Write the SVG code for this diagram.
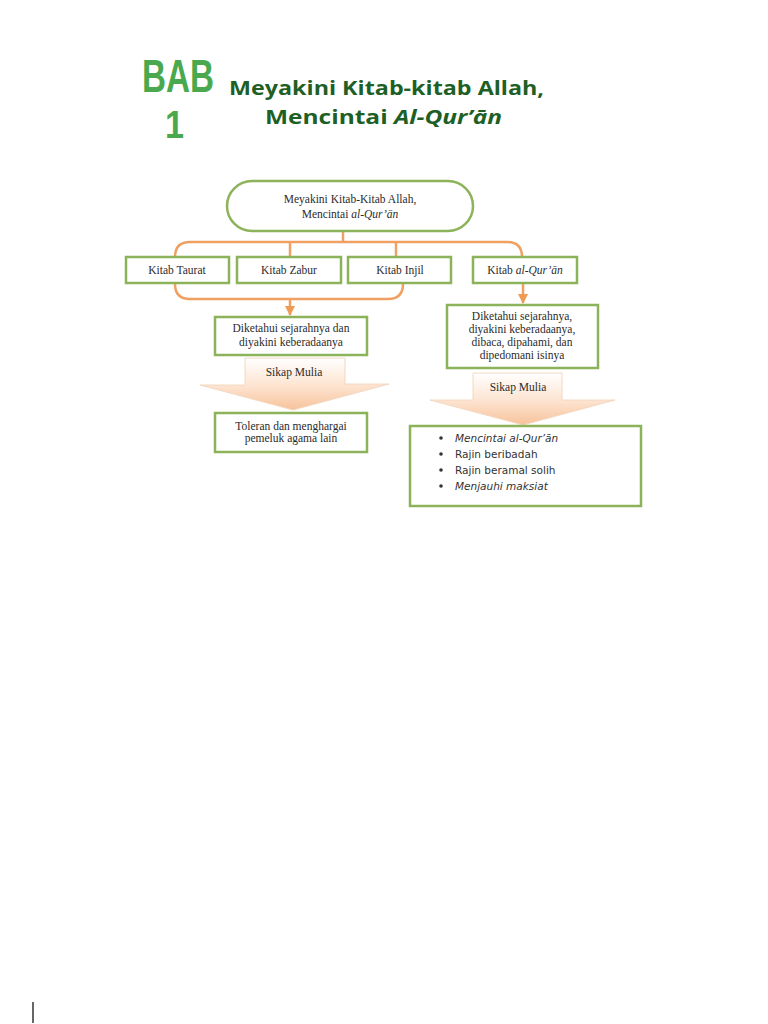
<svg xmlns="http://www.w3.org/2000/svg" width="768" height="1024" viewBox="0 0 768 1024">
<defs>
<linearGradient id="peach" x1="0" y1="0" x2="0" y2="1">
<stop offset="0" stop-color="#ffffff"/>
<stop offset="0.55" stop-color="#fde3cf"/>
<stop offset="1" stop-color="#f7c29a"/>
</linearGradient>
<marker id="ah" viewBox="0 0 10 10" refX="9" refY="5" markerWidth="4" markerHeight="4" orient="auto">
<path d="M0,0 L10,5 L0,10 z" fill="#ef9a55"/>
</marker>
<style>
.box{fill:#ffffff;stroke:#8db35a;stroke-width:2.5}
.con{fill:none;stroke:#f0a062;stroke-width:2.5}
.t{font-family:"Liberation Serif","DejaVu Serif",serif;font-size:11.5px;fill:#2b2b2b;text-anchor:middle}
.b{font-family:"DejaVu Sans","Noto Sans",sans-serif;font-size:10.5px;fill:#333333}
.sk{stroke:#f3d8c2;stroke-width:1;fill:url(#peach)}
</style>
</defs>
<rect width="768" height="1024" fill="#ffffff"/>
<g id="title">
<text x="142" y="92" font-family="'Liberation Sans','DejaVu Sans',sans-serif" font-weight="bold" font-size="46" fill="#4aa94e" textLength="72" lengthAdjust="spacingAndGlyphs">BAB</text>
<text x="165" y="138" font-family="'Liberation Sans','DejaVu Sans',sans-serif" font-weight="bold" font-size="39" fill="#4aa94e" textLength="19" lengthAdjust="spacingAndGlyphs">1</text>
<text x="229" y="95" font-family="'Open Sans','DejaVu Sans',sans-serif" font-weight="bold" font-size="20" fill="#1e5f26" textLength="315" lengthAdjust="spacingAndGlyphs">Meyakini Kitab-kitab Allah,</text>
<text x="265" y="124" font-family="'Open Sans','DejaVu Sans',sans-serif" font-weight="bold" font-size="20" fill="#1e5f26" textLength="237" lengthAdjust="spacingAndGlyphs">Mencintai <tspan font-style="italic">Al-Qur’ān</tspan></text>
</g>
<g id="connectors">
<line class="con" x1="343" y1="231" x2="343" y2="242"/>
<path class="con" d="M175,257 Q175,242 190,242 L507,242 Q522,242 522,257"/>
<line class="con" x1="290" y1="242" x2="290" y2="257"/>
<line class="con" x1="396" y1="242" x2="396" y2="257"/>
<path class="con" d="M175,284 Q175,299 190,299 L388,299 Q403,299 403,284"/>
<line class="con" x1="290" y1="299" x2="290" y2="315" marker-end="url(#ah)"/>
<line class="con" x1="523" y1="283" x2="523" y2="303" marker-end="url(#ah)"/>
</g>
<g id="root">
<rect class="box" x="227" y="181" width="246" height="50" rx="25" ry="25"/>
<text class="t" x="350" y="203">Meyakini Kitab-Kitab Allah,</text>
<text class="t" x="350" y="218">Mencintai <tspan font-style="italic">al-Qur’ān</tspan></text>
</g>
<g id="taurat">
<rect class="box" x="126" y="257" width="103" height="26"/>
<text class="t" x="177" y="274">Kitab Taurat</text>
</g>
<g id="zabur">
<rect class="box" x="237" y="257" width="104" height="26"/>
<text class="t" x="289" y="274">Kitab Zabur</text>
</g>
<g id="injil">
<rect class="box" x="348" y="257" width="103" height="26"/>
<text class="t" x="400" y="274">Kitab Injil</text>
</g>
<g id="quran">
<rect class="box" x="473" y="257" width="104" height="26"/>
<text class="t" x="525" y="274">Kitab <tspan font-style="italic">al-Qur’ān</tspan></text>
</g>
<g id="left-result">
<rect class="box" x="215" y="317" width="152" height="38"/>
<text class="t" x="291" y="332">Diketahui sejarahnya dan</text>
<text class="t" x="291" y="346">diyakini keberadaanya</text>
</g>
<g id="right-result">
<rect class="box" x="447" y="305" width="151" height="63"/>
<text class="t" x="522" y="320">Diketahui sejarahnya,</text>
<text class="t" x="522" y="333">diyakini keberadaanya,</text>
<text class="t" x="522" y="346">dibaca, dipahami, dan</text>
<text class="t" x="522" y="359">dipedomani isinya</text>
</g>
<g id="left-sikap">
<path class="sk" d="M245,358 L345,358 L345,384 L389,384 L293,410 L200,385 L245,385 z"/>
<text class="t" x="294" y="376">Sikap Mulia</text>
</g>
<g id="right-sikap">
<path class="sk" d="M473,373 L562,373 L562,400 L615,400 L523,425 L430,400 L473,400 z"/>
<text class="t" x="518" y="391">Sikap Mulia</text>
</g>
<g id="left-final">
<rect class="box" x="215" y="413" width="152" height="39"/>
<text class="t" x="291" y="430">Toleran dan menghargai</text>
<text class="t" x="291" y="442">pemeluk agama lain</text>
</g>
<g id="right-final">
<rect class="box" x="410" y="426" width="231" height="80"/>
<circle cx="441" cy="438" r="1.8" fill="#333"/>
<circle cx="441" cy="454" r="1.8" fill="#333"/>
<circle cx="441" cy="470" r="1.8" fill="#333"/>
<circle cx="441" cy="486" r="1.8" fill="#333"/>
<text class="b" x="455" y="442" font-style="italic">Mencintai al-Qur’ān</text>
<text class="b" x="455" y="458">Rajin beribadah</text>
<text class="b" x="455" y="474">Rajin beramal solih</text>
<text class="b" x="455" y="490" font-style="italic">Menjauhi maksiat</text>
</g>
<line x1="33" y1="1002" x2="33" y2="1023" stroke="#000" stroke-width="1.2"/>
</svg>
